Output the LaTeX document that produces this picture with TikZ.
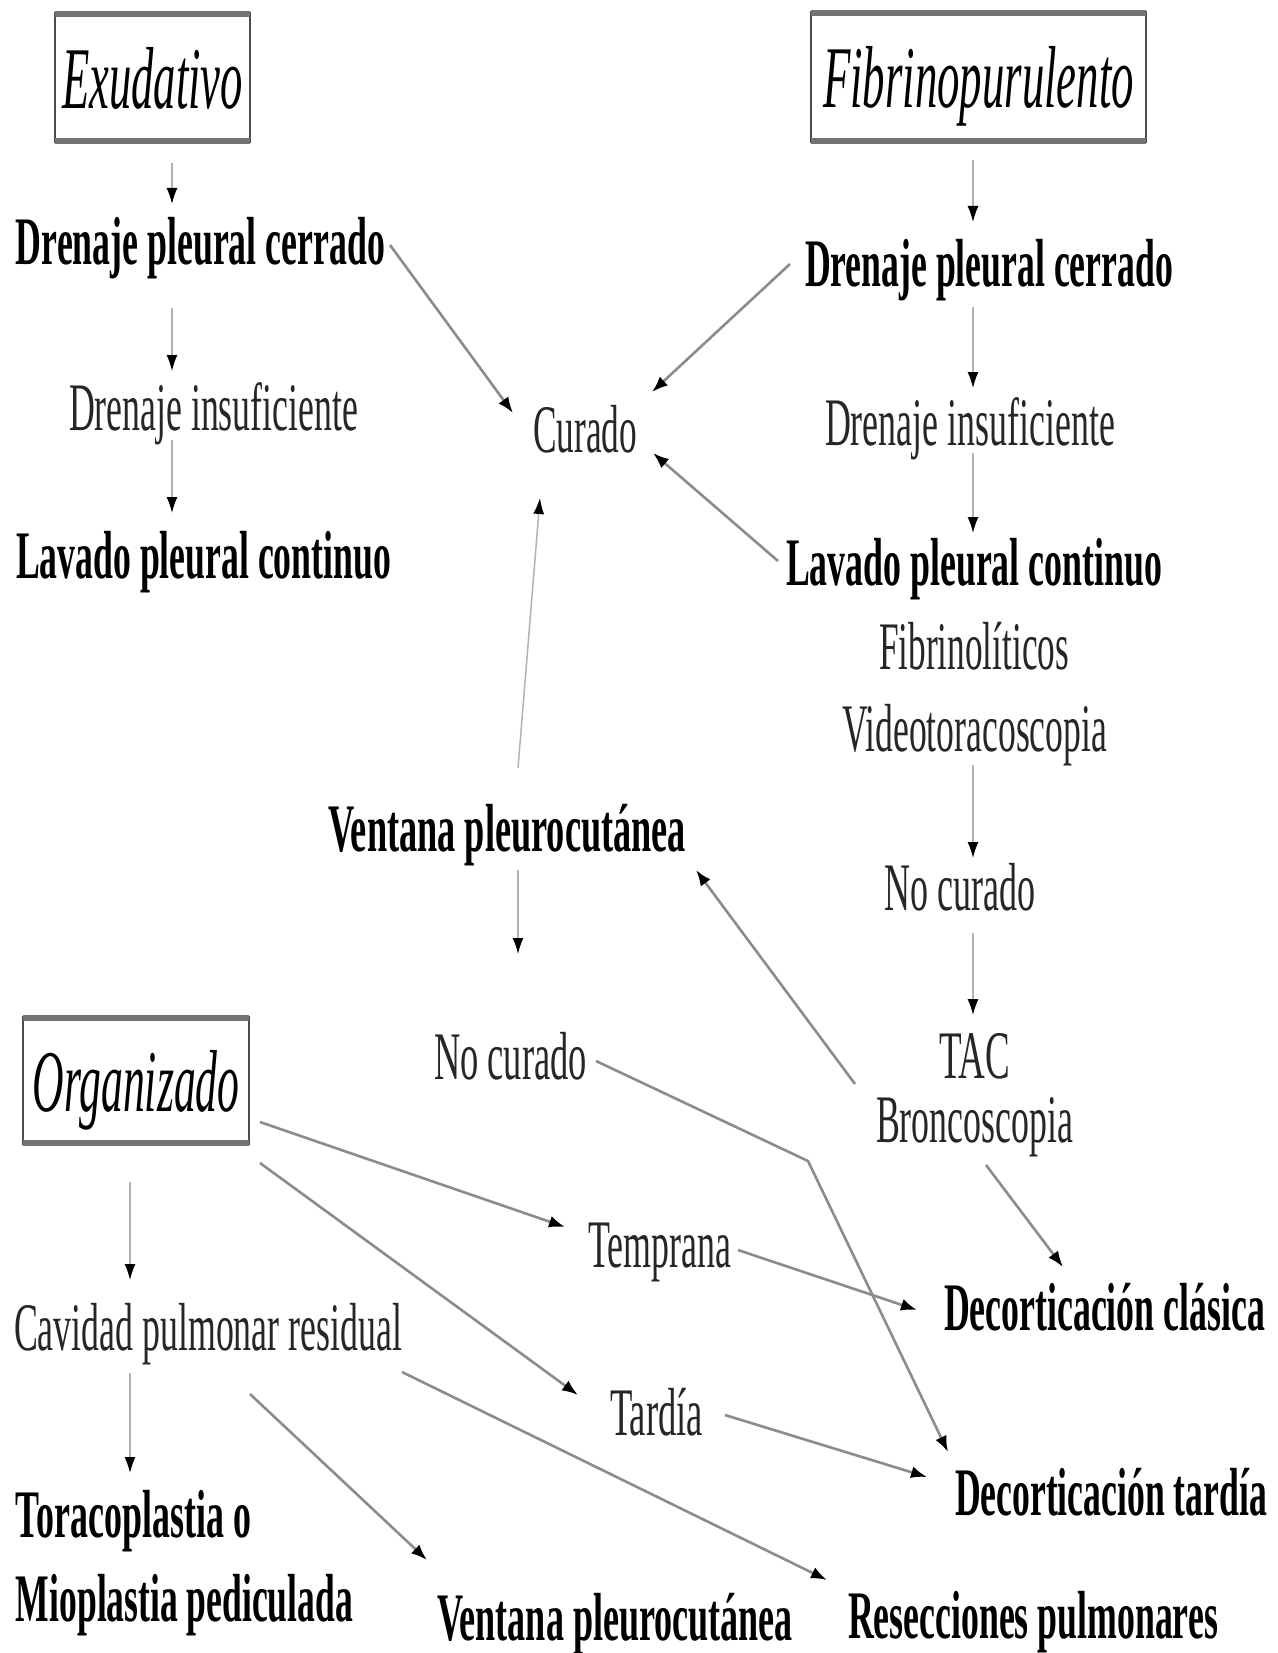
\documentclass[tikz,border=0pt]{standalone}
\usepackage{fontspec}
\setmainfont{Liberation Serif}
\usetikzlibrary{arrows.meta}
\newcommand\wb[2]{\resizebox{#1pt}{\height}{#2}}
\begin{document}
\begin{tikzpicture}[x=1pt,y=-1pt,
  txt/.style={inner sep=0pt, outer sep=0pt, anchor=base west, font=\fontsize{68}{72}\selectfont, text=black!85},
  bld/.style={txt, font=\fontsize{68}{72}\selectfont\bfseries, text=black},
  ttl/.style={draw=black!70, line width=2.5pt, inner sep=0pt, outer sep=0pt, font=\fontsize{88}{90}\selectfont\itshape, text depth=0pt},
  boxedge/.style={line width=6pt, draw=black!55},
  con/.style={draw=black!45, line width=2.6pt, -{Latex[length=16pt,width=12pt,color=black,fill=black]}},
  thn/.style={draw=black!30, line width=1.5pt, -{Latex[length=16pt,width=11pt,color=black,fill=black]}}]
\useasboundingbox[fill=white] (0,0) rectangle (1277,1653);

% title boxes
\node[ttl, minimum width=195pt, minimum height=129pt] (exu) at (152.5,77.5) {\wb{181}{Exudativo}};
\node[ttl, minimum width=335pt, minimum height=130pt] (fib) at (978.5,77) {\wb{311}{Fibrinopurulento}};
\node[ttl, minimum width=226pt, minimum height=127pt] (org) at (136,1080.5) {\wb{207}{Organizado}};
\foreach \b in {exu,fib,org}{
  \draw[boxedge] ([yshift=-1pt]\b.north west) -- ([yshift=-1pt]\b.north east);
  \draw[boxedge] ([yshift=1pt]\b.south west) -- ([yshift=1pt]\b.south east);
}

% text nodes
\node[bld] (ldren) at (16,265) {\wb{369}{Drenaje pleural cerrado}};
\node[txt] (linsuf) at (69,430) {\wb{289}{Drenaje insuficiente}};
\node[bld] (llav) at (16,578) {\wb{375}{Lavado pleural continuo}};
\node[txt] (cur) at (533,452) {\wb{104}{Curado}};
\node[bld] (rdren) at (805,287) {\wb{368}{Drenaje pleural cerrado}};
\node[txt] (rinsuf) at (825,445) {\wb{290}{Drenaje insuficiente}};
\node[bld] (rlav) at (786,585) {\wb{376}{Lavado pleural continuo}};
\node[txt] (fibl) at (879,669) {\wb{190}{Fibrinolíticos}};
\node[txt] (video) at (842,751) {\wb{265}{Videotoracoscopia}};
\node[txt] (rnoc) at (884,910) {\wb{151}{No curado}};
\node[txt] (tac) at (939,1078) {\wb{71}{TAC}};
\node[txt] (bron) at (876,1142) {\wb{197}{Broncoscopia}};
\node[bld] (vent) at (328,851) {\wb{358}{Ventana pleurocutánea}};
\node[txt] (mnoc) at (434,1079) {\wb{153}{No curado}};
\node[txt] (temp) at (588,1267) {\wb{143}{Temprana}};
\node[bld] (decc) at (944,1330) {\wb{321}{Decorticación clásica}};
\node[txt] (cav) at (14,1350) {\wb{388}{Cavidad pulmonar residual}};
\node[txt] (tard) at (610,1435) {\wb{93}{Tardía}};
\node[bld] (dect) at (955,1515) {\wb{312}{Decorticación tardía}};
\node[bld] (tora) at (16,1537) {\wb{235}{Toracoplastia o}};
\node[bld] (mio) at (16,1621) {\wb{337}{Mioplastia pediculada}};
\node[bld] (ventb) at (437,1640) {\wb{356}{Ventana pleurocutánea}};
\node[bld] (resec) at (848,1638) {\wb{370}{Resecciones pulmonares}};

% connectors
\draw[thn] ([shift={(19.5,85.5)}]exu.center) -- ([shift={(156,-61)}]ldren.base west);
\draw[thn] ([shift={(156,43)}]ldren.base west) -- ([shift={(103,-59)}]linsuf.base west);
\draw[thn] ([shift={(103,10)}]linsuf.base west) -- ([shift={(156,-65)}]llav.base west);
\draw[con] ([shift={(374,-20)}]ldren.base west) -- ([shift={(-20,-39)}]cur.base west);
\draw[thn] ([shift={(-5.5,83)}]fib.center) -- ([shift={(168,-65)}]rdren.base west);
\draw[thn] ([shift={(168,20)}]rdren.base west) -- ([shift={(148,-57)}]rinsuf.base west);
\draw[thn] ([shift={(148,8)}]rinsuf.base west) -- ([shift={(187,-52)}]rlav.base west);
\draw[con] ([shift={(-15,-23)}]rdren.base west) -- ([shift={(119,-60)}]cur.base west);
\draw[con] ([shift={(-8,-24)}]rlav.base west) -- ([shift={(120,1)}]cur.base west);
\draw[thn] ([shift={(131,14)}]video.base west) -- ([shift={(89,-52)}]rnoc.base west);
\draw[thn] ([shift={(89,23)}]rnoc.base west) -- ([shift={(34,-63)}]tac.base west);
\draw[con] ([shift={(-21,-58)}]bron.base west) -- ([shift={(368,19)}]vent.base west);
\draw[thn] ([shift={(190,-83)}]vent.base west) -- ([shift={(7,46)}]cur.base west);
\draw[thn] ([shift={(190,19)}]vent.base west) -- ([shift={(84,-125)}]mnoc.base west);
\draw[con] ([shift={(162,-18)}]mnoc.base west) -- ([shift={(374,82)}]mnoc.base west) -- ([shift={(-7,-63)}]dect.base west);
\draw[con] ([shift={(110,23)}]bron.base west) -- ([shift={(119,-63)}]decc.base west);
\draw[con] ([shift={(124,41.5)}]org.center) -- ([shift={(-23,-40)}]temp.base west);
\draw[con] ([shift={(124,82.5)}]org.center) -- ([shift={(-32,-40)}]tard.base west);
\draw[con] ([shift={(150,-17)}]temp.base west) -- ([shift={(-27,-20)}]decc.base west);
\draw[con] ([shift={(115,-20)}]tard.base west) -- ([shift={(-28,-38)}]dect.base west);
\draw[thn] ([shift={(-6,101.5)}]org.center) -- ([shift={(116,-70)}]cav.base west);
\draw[thn] ([shift={(116,23)}]cav.base west) -- ([shift={(114,-64)}]tora.base west);
\draw[con] ([shift={(236,44)}]cav.base west) -- ([shift={(-10,-80)}]ventb.base west);
\draw[con] ([shift={(388,22)}]cav.base west) -- ([shift={(-21,-58)}]resec.base west);
\end{tikzpicture}
\end{document}
